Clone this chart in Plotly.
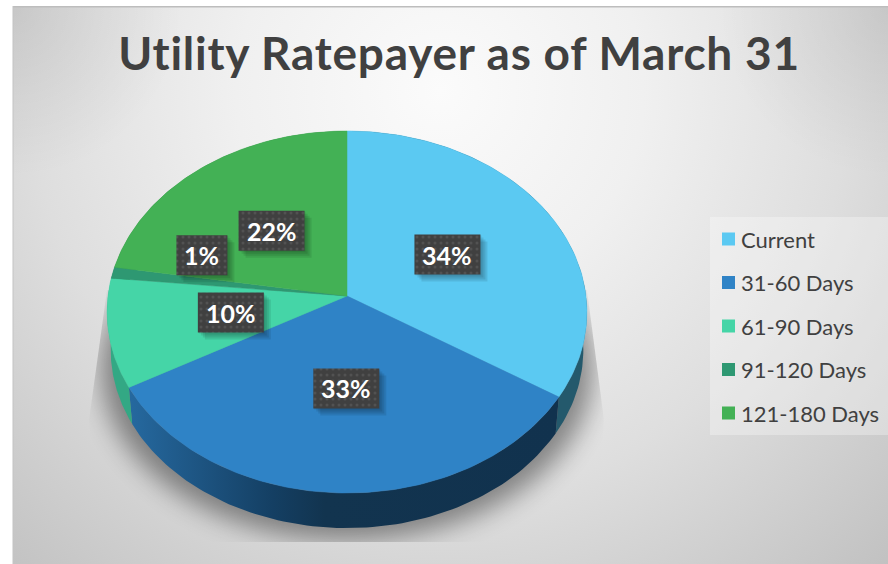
import base64
import numpy as np
import plotly.graph_objects as go

# ---- data ----
TITLE = "Utility Ratepayer as of March 31"
categories = ["Current", "31-60 Days", "61-90 Days", "91-120 Days", "121-180 Days"]
values = [34.0, 32.9, 9.7, 1.0, 22.4]
colors = ["#5BC9F2", "#2F83C6", "#45D5A7", "#2E9872", "#43B155"]
wall_colors = ["#24596C", "#12344F", "#33A884", "#1E6A50", "#2E7C3B"]

# ---- style / geometry (page pixels, axes run 0..888 and 564..0) ----
W, H = 888, 564
CX, CY = 347, 296
A, B, K = 239, 179.6, 0.0884
DEPTH, SHRINK = 38, 0.985
FONT = "Lato"
INK = "#404040"
LABEL_W, LABEL_H = 66, 40
NARROW_W = 51
LABEL_NUDGE = [(0, 0), (3, -6), (3, -2), (-28, -29), (-3, -1)]


def rim(theta, top=True):
    u, v = np.sin(theta), np.cos(theta)
    d = 1 + K * v
    s = 1 if top else SHRINK
    return CX + s * A * u / d, CY + (0 if top else DEPTH) - s * B * v / d


bg_svg = f"""<svg xmlns='http://www.w3.org/2000/svg' width='{W}' height='{H}'>
<defs>
<radialGradient id='g' gradientUnits='userSpaceOnUse' cx='440' cy='90' r='680'>
<stop offset='0' stop-color='#fbfbfb'/><stop offset='0.3' stop-color='#f0f0f0'/>
<stop offset='0.6' stop-color='#dedede'/><stop offset='1' stop-color='#bebebe'/></radialGradient>
<radialGradient id='tl' gradientUnits='userSpaceOnUse' cx='13' cy='7' r='170'>
<stop offset='0' stop-color='#000' stop-opacity='0.09'/><stop offset='1' stop-color='#000' stop-opacity='0'/></radialGradient>
<radialGradient id='tr' gradientUnits='userSpaceOnUse' cx='888' cy='7' r='170'>
<stop offset='0' stop-color='#000' stop-opacity='0.08'/><stop offset='1' stop-color='#000' stop-opacity='0'/></radialGradient>
<filter id='b' x='-20%' y='-20%' width='140%' height='140%'><feGaussianBlur stdDeviation='13'/></filter>
<clipPath id='c'><polygon points='107,290 587,290 604,420 600,542 92,542 89,420'/></clipPath>
</defs>
<rect width='{W}' height='{H}' fill='#fff'/>
<rect x='13' y='7' width='{W-13}' height='{H-7}' fill='url(#g)'/>
<rect x='13' y='7' width='{W-13}' height='{H-7}' fill='url(#tl)'/>
<rect x='13' y='7' width='{W-13}' height='{H-7}' fill='url(#tr)'/>
<rect x='13' y='6' width='{W-13}' height='1.5' fill='#bdbdbd'/>
<rect x='12.5' y='6' width='1' height='{H-6}' fill='#c4c4c4'/>
<g clip-path='url(#c)'><ellipse cx='347' cy='368' rx='246' ry='172' fill='#000' opacity='0.42' filter='url(#b)'/></g>
<rect x='710' y='217' width='178' height='218' fill='#ffffff' opacity='0.30'/>
</svg>"""
bg_uri = "data:image/svg+xml;base64," + base64.b64encode(bg_svg.encode()).decode()

fig = go.Figure()

# ---- slice boundaries from the values ----
edges = np.cumsum([0] + values) / sum(values) * 2 * np.pi
shapes, annotations = [], []

# side walls first, top faces over them
for i, name in enumerate(categories):
    t = np.linspace(edges[i], edges[i + 1], 90)
    xt, yt = rim(t, True)
    xb, yb = rim(t, False)
    wall = dict(
        x=np.r_[xt, xb[::-1], xt[0]], y=np.r_[yt, yb[::-1], yt[0]],
        mode="lines", line=dict(width=0), fill="toself", hoverinfo="skip", showlegend=False,
    )
    if name == "31-60 Days":
        wall["fillgradient"] = dict(
            type="horizontal", start=132, stop=560,
            colorscale=[[0, "#25689E"], [0.2, "#1B4F7A"], [0.33, "#143F63"], [0.45, "#12344F"], [1, "#11324E"]],
        )
    else:
        wall["fillcolor"] = wall_colors[i]
    fig.add_trace(go.Scatter(**wall))

for i, name in enumerate(categories):
    t = np.linspace(edges[i], edges[i + 1], 120)
    xt, yt = rim(t, True)
    fig.add_trace(go.Scatter(
        x=np.r_[CX, xt, CX], y=np.r_[CY, yt, CY], name=name, mode="lines",
        line=dict(width=0.5, color=colors[i]), fill="toself", fillcolor=colors[i],
        hovertemplate=f"{name}: {values[i]:.0f}%<extra></extra>", showlegend=False,
    ))

# data labels
for i, val in enumerate(values):
    mid = (edges[i] + edges[i + 1]) / 2
    mx, my = rim(mid, True)
    lx = CX + (mx - CX) * 0.5 + LABEL_NUDGE[i][0]
    ly = CY + (my - CY) * 0.5 + LABEL_NUDGE[i][1]
    w = NARROW_W if round(val) < 10 else LABEL_W
    x0, x1, y0, y1 = lx - w / 2, lx + w / 2, ly - LABEL_H / 2, ly + LABEL_H / 2
    shadow = "rgba(0,0,0,0.09)"
    for off in (1, 3, 5, 7):
        fig.add_trace(go.Scatter(
            x=[x0 + off, x1 + off, x1 + off, x0 + off, x0 + off],
            y=[y0 + off, y0 + off, y1 + off, y1 + off, y0 + off],
            mode="lines", line=dict(width=0), fill="toself", fillcolor=shadow,
            hoverinfo="skip", showlegend=False,
        ))
    fig.add_trace(go.Scatter(
        x=[x0, x1, x1, x0, x0], y=[y0, y0, y1, y1, y0], mode="lines", line=dict(width=0),
        fill="toself", fillcolor=INK,
        fillpattern=dict(shape=".", bgcolor=INK, fgcolor="#525252", size=6, solidity=0.2, fillmode="replace"),
        hoverinfo="skip", showlegend=False,
    ))
    annotations.append(dict(
        x=lx, y=ly, xref="x", yref="y", text=f"{round(val)}%", showarrow=False,
        font=dict(family=FONT, size=25, color="#FFFFFF", weight="bold"),
    ))

# legend
LEG_X, LEG_Y0, LEG_STEP, SW = 722, 239, 43.5, 13
for i, name in enumerate(categories):
    y = LEG_Y0 + i * LEG_STEP
    shapes.append(dict(type="rect", xref="x", yref="y", x0=LEG_X, x1=LEG_X + SW, y0=y - SW / 2, y1=y + SW / 2,
                       fillcolor=colors[i], line_width=0, layer="above"))
    annotations.append(dict(x=LEG_X + SW + 4, y=y, xref="x", yref="y", xanchor="left", text=name, showarrow=False,
                            font=dict(family=FONT, size=22, color=INK)))

fig.update_layout(
    width=W, height=H, margin=dict(l=0, r=0, t=0, b=0),
    paper_bgcolor="#ffffff", plot_bgcolor="rgba(0,0,0,0)", showlegend=False,
    title=dict(text=f"<b>{TITLE}</b>", x=459 / W, xanchor="center", y=1 - 54 / H, yanchor="middle",
               font=dict(family=FONT, size=46, color=INK)),
    xaxis=dict(range=[0, W], visible=False, fixedrange=True),
    yaxis=dict(range=[H, 0], visible=False, fixedrange=True),
    images=[dict(source=bg_uri, xref="x", yref="y", x=0, y=0, sizex=W, sizey=H, sizing="stretch",
                 xanchor="left", yanchor="top", layer="below")],
    shapes=shapes, annotations=annotations,
)

fig.write_html("out.html", config={"displayModeBar": False},
               post_script="document.body.style.margin='0';document.documentElement.style.overflow='hidden';"
                           "document.querySelectorAll('.gtitle').forEach(function(t){t.style.letterSpacing='0.75px';});")
